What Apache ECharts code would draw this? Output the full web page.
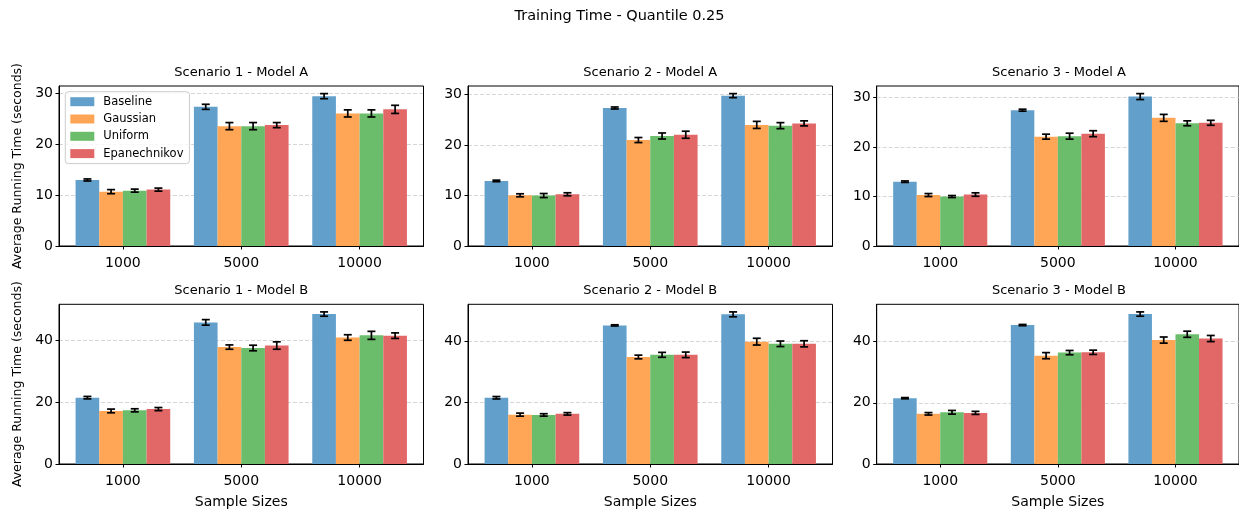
<!DOCTYPE html>
<html>
<head>
<meta charset="utf-8">
<script src="https://cdn.jsdelivr.net/npm/echarts@6/dist/echarts.min.js"></script>
<style>html,body{margin:0;padding:0;background:#fff;}#c{width:1239px;height:510px;}</style>
</head>
<body>
<div id="c"></div>
<script>
// ---- data ----
const categories = ['1000', '5000', '10000'];
const methods = ['Baseline', 'Gaussian', 'Uniform', 'Epanechnikov'];
const panelTitles = ['Scenario 1 - Model A', 'Scenario 2 - Model A', 'Scenario 3 - Model A',
                     'Scenario 1 - Model B', 'Scenario 2 - Model B', 'Scenario 3 - Model B'];
const mainTitle = 'Training Time - Quantile 0.25';
const yLabel = 'Average Running Time (seconds)';
const xLabel = 'Sample Sizes';
const yTicksA = [0, 10, 20, 30];
const yTicksB = [0, 20, 40];

// means: [Baseline, Gaussian, Uniform, Epanechnikov] x [1000, 5000, 10000]
const s1A_mean = [[13.0, 27.4, 29.5], [10.7, 23.6, 26.1], [10.9, 23.6, 26.1], [11.1, 23.8, 26.9]];
const s1A_err  = [[0.2, 0.5, 0.5], [0.4, 0.7, 0.7], [0.3, 0.7, 0.7], [0.3, 0.5, 0.8]];
const s2A_mean = [[12.9, 27.35, 29.8], [10.05, 21.0, 24.0], [10.0, 21.8, 23.85], [10.25, 22.05, 24.3]];
const s2A_err  = [[0.15, 0.2, 0.4], [0.3, 0.5, 0.7], [0.4, 0.6, 0.6], [0.3, 0.7, 0.5]];
const s3A_mean = [[13.0, 27.45, 30.2], [10.3, 22.1, 25.9], [10.0, 22.2, 24.8], [10.4, 22.7, 24.9]];
const s3A_err  = [[0.15, 0.2, 0.6], [0.3, 0.5, 0.7], [0.2, 0.6, 0.5], [0.35, 0.6, 0.5]];
const s1B_mean = [[21.5, 45.9, 48.6], [17.2, 37.9, 41.0], [17.4, 37.6, 41.7], [17.8, 38.4, 41.6]];
const s1B_err  = [[0.4, 0.9, 0.7], [0.6, 0.7, 0.9], [0.5, 0.9, 1.3], [0.5, 1.2, 0.9]];
const s2B_mean = [[21.6, 45.2, 48.8], [16.1, 34.9, 39.9], [16.0, 35.6, 39.2], [16.35, 35.6, 39.2]];
const s2B_err  = [[0.4, 0.2, 0.8], [0.5, 0.6, 1.1], [0.4, 0.8, 0.9], [0.4, 0.9, 1.0]];
const s3B_mean = [[21.5, 45.4, 49.0], [16.4, 35.4, 40.5], [16.9, 36.4, 42.4], [16.7, 36.5, 41.0]];
const s3B_err  = [[0.2, 0.2, 0.7], [0.4, 1.0, 1.0], [0.6, 0.7, 1.0], [0.5, 0.7, 1.0]];

const panelMeans = [s1A_mean, s2A_mean, s3A_mean, s1B_mean, s2B_mean, s3B_mean];
const panelErrs  = [s1A_err, s2A_err, s3A_err, s1B_err, s2B_err, s3B_err];

// ---- style / layout ----
const colors = ['#62a0cb', '#ffa556', '#6bbc6b', '#e26868'];
const FONT = 'DejaVu Sans';
const gridLefts = [59, 468, 876.7];
const gridTops = [86, 304.3];
const gridW = 364.5, gridH = 160;
const barW = 0.2;

const chart = echarts.init(document.getElementById('c'), null, {renderer: 'canvas'});

const grids = [], xAxes = [], yAxes = [], series = [], titles = [];
titles.push({text: mainTitle, left: 'center', top: 9, padding: 0,
  textStyle: {fontFamily: FONT, fontSize: 14.5, fontWeight: 'normal', color: '#000'}});

for (let p = 0; p < 6; p++) {
  const row = Math.floor(p / 3), col = p % 3;
  const left = gridLefts[col], top = gridTops[row];
  grids.push({left: left, top: top, width: gridW, height: gridH, show: true,
    borderColor: '#000', borderWidth: 1, backgroundColor: 'transparent', containLabel: false});
  titles.push({text: panelTitles[p], left: left + gridW / 2, textAlign: 'center',
    top: top - 20, padding: 0,
    textStyle: {fontFamily: FONT, fontSize: 13, fontWeight: 'normal', color: '#000'}});

  // y max like matplotlib autoscale (5% margin over tallest bar + error)
  let mx = 0;
  panelMeans[p].forEach((arr, j) => arr.forEach((v, i) => { mx = Math.max(mx, v + panelErrs[p][j][i]); }));
  const yt = row === 0 ? yTicksA : yTicksB;

  xAxes.push({gridIndex: p, type: 'value', min: -0.54, max: 2.54, z: 5,
    name: row === 1 ? xLabel : '', nameLocation: 'middle', nameGap: 31,
    nameTextStyle: {fontFamily: FONT, fontSize: 14, color: '#000'},
    axisLine: {show: true, onZero: false, lineStyle: {color: '#000', width: 1}},
    axisTick: {show: true, length: 3.5, customValues: [0, 1, 2], lineStyle: {color: '#000', width: 1}},
    axisLabel: {customValues: [0, 1, 2], formatter: v => categories[Math.round(v)] || '',
      margin: 10, fontFamily: FONT, fontSize: 14, color: '#000'},
    splitLine: {show: false}});

  yAxes.push({gridIndex: p, type: 'value', min: 0, max: mx * 1.05, interval: yt[1],
    name: col === 0 ? yLabel : '', nameLocation: 'middle', nameGap: 35,
    nameTextStyle: {fontFamily: FONT, fontSize: 12.5, color: '#000'},
    axisLine: {show: true, onZero: false, lineStyle: {color: '#000', width: 1}},
    axisTick: {show: true, length: 3.5, customValues: yt, lineStyle: {color: '#000', width: 1}},
    axisLabel: {customValues: yt, margin: 6, fontFamily: FONT, fontSize: 14, color: '#000'},
    splitLine: {show: true, lineStyle: {color: '#cccccc', width: 0.8, type: [4, 2]}}});

  methods.forEach((m, j) => {
    series.push({
      type: 'custom', name: m, xAxisIndex: p, yAxisIndex: p,
      itemStyle: {color: colors[j]}, silent: true,
      encode: {x: 0, y: 1},
      data: categories.map((c, i) => [i, panelMeans[p][j][i], panelErrs[p][j][i]]),
      renderItem: (params, api) => {
        const ci = api.value(0), v = api.value(1), e = api.value(2);
        const xc = ci + (j - 1.5) * barW;
        const a = api.coord([xc - barW / 2, v]);
        const b = api.coord([xc + barW / 2, 0]);
        const t = api.coord([xc, v + e]);
        const d = api.coord([xc, v - e]);
        const ls = {stroke: '#000', lineWidth: 1.7};
        return {type: 'group', children: [
          {type: 'rect', shape: {x: a[0], y: a[1], width: b[0] - a[0], height: b[1] - a[1]},
            style: {fill: colors[j]}},
          {type: 'line', shape: {x1: t[0], y1: t[1], x2: d[0], y2: d[1]}, style: ls},
          {type: 'line', shape: {x1: t[0] - 4, y1: t[1], x2: t[0] + 4, y2: t[1]}, style: ls},
          {type: 'line', shape: {x1: d[0] - 4, y1: d[1], x2: d[0] + 4, y2: d[1]}, style: ls}
        ]};
      }
    });
  });
}

chart.setOption({
  animation: false,
  backgroundColor: '#fff',
  textStyle: {fontFamily: FONT},
  title: titles,
  grid: grids,
  xAxis: xAxes,
  yAxis: yAxes,
  legend: {
    data: methods, orient: 'vertical', left: 65.3, top: 91.7,
    itemWidth: 24, itemHeight: 9, itemGap: 5.3, padding: [4, 6, 4, 5],
    backgroundColor: 'rgba(255,255,255,0.8)', borderColor: '#cccccc', borderWidth: 1, borderRadius: 3,
    icon: 'rect', selectedMode: false,
    textStyle: {fontFamily: FONT, fontSize: 11.5, color: '#000', lineHeight: 12, padding: [0, 0, 0, 4]}
  },
  series: series
});
</script>
</body>
</html>
